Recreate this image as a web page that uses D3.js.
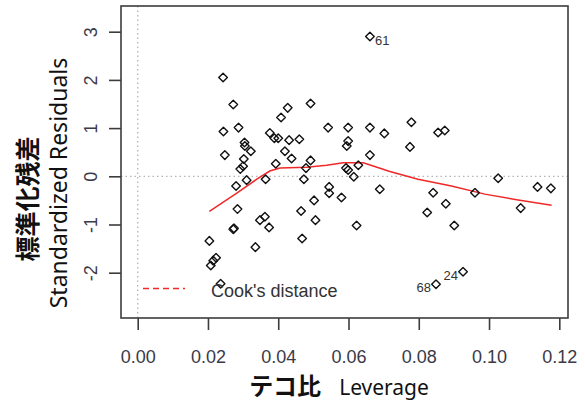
<!DOCTYPE html>
<html>
<head>
<meta charset="utf-8">
<script src="https://cdn.jsdelivr.net/npm/d3@7"></script>
<style>
  html, body { margin: 0; padding: 0; background: #ffffff; }
  svg { display: block; }
</style>
</head>
<body>
<div id="svgOutput"></div>
<script>
// observations: leverage and standardized residuals (last three are flagged)
const leverage = [
  0.0243, 0.0272, 0.0244, 0.0287, 0.0248, 0.0304, 0.0305, 0.0322, 0.0302, 0.0300,
  0.0292, 0.0310, 0.0280, 0.0364, 0.0376, 0.0389, 0.0400, 0.0408, 0.0427, 0.0431,
  0.0419, 0.0438, 0.0393, 0.0492, 0.0460, 0.0492, 0.0479, 0.0473, 0.0542, 0.0599,
  0.0661, 0.0702, 0.0599, 0.0595, 0.0661, 0.0593, 0.0599, 0.0628, 0.0615, 0.0689,
  0.0545, 0.0545, 0.0580, 0.0502, 0.0284, 0.0272, 0.0274, 0.0204, 0.0223, 0.0215,
  0.0208, 0.0236, 0.0335, 0.0348, 0.0362, 0.0374, 0.0465, 0.0506, 0.0468, 0.0623,
  0.0779, 0.0775, 0.0855, 0.0874, 0.1026, 0.1138, 0.1176, 0.0841, 0.0877, 0.0824,
  0.0901, 0.0960, 0.1090, 0.0926, 0.0849, 0.0661
];
const stdResid = [
  2.05, 1.49, 0.93, 1.01, 0.44, 0.70, 0.63, 0.52, 0.36, 0.21,
  0.15, -0.08, -0.20, -0.06, 0.90, 0.79, 0.79, 1.22, 1.42, 0.75,
  0.52, 0.37, 0.26, 1.51, 0.77, 0.33, 0.17, -0.06, 1.01, 1.01,
  1.01, 0.89, 0.73, 0.63, 0.44, 0.17, 0.13, 0.23, -0.01, -0.27,
  -0.22, -0.35, -0.44, -0.50, -0.68, -1.10, -1.08, -1.34, -1.69, -1.75,
  -1.85, -2.23, -1.47, -0.91, -0.84, -1.06, -0.72, -0.91, -1.29, -1.02,
  1.12, 0.61, 0.91, 0.95, -0.04, -0.22, -0.25, -0.34, -0.57, -0.75,
  -1.02, -0.34, -0.66, -1.98, -2.24, 2.90
];
const flaggedIndex = [73, 74, 75];
const flaggedLabel = ["24", "68", "61"];

// loess smoother
const smoothLev = [0.0204, 0.0282, 0.0339, 0.0376, 0.0405, 0.0481, 0.0538, 0.0585,
  0.0642, 0.0718, 0.0798, 0.0893, 0.0988, 0.1083, 0.1178];
const smoothRes = [-0.73, -0.35, -0.06, 0.11, 0.17, 0.19, 0.23, 0.28,
  0.28, 0.10, -0.06, -0.20, -0.37, -0.49, -0.60];

const xTicks = [0, 0.02, 0.04, 0.06, 0.08, 0.10, 0.12];
const yTicks = [-2, -1, 0, 1, 2, 3];

(function () {
  document.addEventListener('DOMContentLoaded', function () {

    const width = 585;
    const height = 410;
    const box = { left: 121, right: 568, top: 6, bottom: 318 };
    const axisColor = '#3c3c3c';
    const textColor = '#3a3a48';

    const svg = d3.select('#svgOutput')
      .append('svg')
      .attr('width', width)
      .attr('height', height)
      .attr('viewBox', [0, 0, width, height]);

    svg.append('rect')
      .attr('width', width)
      .attr('height', height)
      .attr('fill', '#ffffff');

    // scales

    const x = d3.scaleLinear()
      .domain([0, 0.12])
      .range([137.7, 559.3]);

    const y = d3.scaleLinear()
      .domain([-2, 3])
      .range([272.7, 31.7]);

    // dotted reference lines at zero

    svg.append('line')
      .attr('x1', x(0)).attr('x2', x(0))
      .attr('y1', box.top).attr('y2', box.bottom)
      .attr('stroke', '#b4b4b4')
      .attr('stroke-width', 1.3)
      .attr('stroke-dasharray', '1.5,3');

    svg.append('line')
      .attr('x1', box.left).attr('x2', box.right)
      .attr('y1', y(0)).attr('y2', y(0))
      .attr('stroke', '#b4b4b4')
      .attr('stroke-width', 1.3)
      .attr('stroke-dasharray', '1.5,3');

    // axes

    const xAxis = svg.append('g')
      .attr('transform', `translate(0,${box.bottom})`)
      .call(d3.axisBottom(x).tickValues(xTicks).tickSize(12).tickSizeOuter(0).tickPadding(16).tickFormat(d3.format('.2f')));

    const yAxis = svg.append('g')
      .attr('transform', `translate(${box.left},0)`)
      .call(d3.axisLeft(y).tickValues(yTicks).tickSize(12).tickSizeOuter(0).tickFormat(d => d < 0 ? '-' + Math.abs(d) : String(d)));

    [xAxis, yAxis].forEach(function (g) {
      g.select('.domain').remove();
      g.selectAll('.tick line')
        .attr('stroke', axisColor)
        .attr('stroke-width', 1.6);
      g.selectAll('.tick text')
        .attr('fill', textColor)
        .style('font-family', '"Liberation Sans", Arial, sans-serif')
        .style('font-size', '18px');
    });

    xAxis.selectAll('.tick text')
      .attr('y', 0)
      .attr('dy', 0)
      .attr('transform', 'translate(0,45)');

    yAxis.selectAll('.tick text')
      .attr('x', 0)
      .attr('dy', 0)
      .attr('text-anchor', 'middle')
      .attr('transform', 'translate(-24,0) rotate(-90)');

    // plot frame

    svg.append('rect')
      .attr('x', box.left)
      .attr('y', box.top)
      .attr('width', box.right - box.left)
      .attr('height', box.bottom - box.top)
      .attr('fill', 'none')
      .attr('stroke', axisColor)
      .attr('stroke-width', 1.6);

    // smoother

    const line = d3.line()
      .x((d, i) => x(smoothLev[i]))
      .y((d, i) => y(smoothRes[i]));

    svg.append('path')
      .datum(smoothLev)
      .attr('d', line)
      .attr('fill', 'none')
      .attr('stroke', '#f02828')
      .attr('stroke-width', 1.5);

    // points (open diamonds)

    const diamond = 'M0,-4.3L4.3,0L0,4.3L-4.3,0Z';

    svg.selectAll('path.pt')
      .data(leverage)
      .enter()
      .append('path')
      .attr('class', 'pt')
      .attr('d', diamond)
      .attr('transform', (d, i) => `translate(${x(d)},${y(stdResid[i])})`)
      .attr('fill', 'none')
      .attr('stroke', '#111111')
      .attr('stroke-width', 1.4)
      .attr('stroke-linejoin', 'round');

    // flagged labels, left of the point when past the middle of the range

    const midLev = (d3.min(leverage) + d3.max(leverage)) / 2;

    svg.selectAll('text.flag')
      .data(flaggedIndex)
      .enter()
      .append('text')
      .attr('class', 'flag')
      .attr('x', i => leverage[i] > midLev ? x(leverage[i]) - 5 : x(leverage[i]) + 5)
      .attr('y', i => y(stdResid[i]) + 8)
      .attr('text-anchor', i => leverage[i] > midLev ? 'end' : 'start')
      .attr('fill', '#333333')
      .style('font-family', '"Liberation Sans", Arial, sans-serif')
      .style('font-size', '13px')
      .text((i, k) => flaggedLabel[k]);

    // legend

    svg.append('line')
      .attr('x1', 143).attr('x2', 185)
      .attr('y1', 288.5).attr('y2', 288.5)
      .attr('stroke', '#f02828')
      .attr('stroke-width', 1.5)
      .attr('stroke-dasharray', '6,4');

    svg.append('text')
      .attr('x', 211)
      .attr('y', 297)
      .attr('fill', '#333333')
      .style('font-family', '"Liberation Sans", Arial, sans-serif')
      .style('font-size', '18px')
      .text("Cook's distance");

    // axis titles

    const xTitle = svg.append('text')
      .attr('x', 339)
      .attr('y', 395)
      .attr('text-anchor', 'middle')
      .attr('fill', '#111111');

    xTitle.append('tspan')
      .style('font-family', '"Noto Sans CJK JP", sans-serif')
      .style('font-weight', 'bold')
      .style('font-size', '24px')
      .text('テコ比');

    xTitle.append('tspan')
      .attr('dx', 18)
      .style('font-family', '"Noto Sans", sans-serif')
      .style('font-size', '21px')
      .text('Leverage');

    svg.append('text')
      .attr('transform', 'translate(37,199) rotate(-90)')
      .attr('text-anchor', 'middle')
      .attr('fill', '#111111')
      .style('font-family', '"Noto Sans CJK JP", sans-serif')
      .style('font-weight', 'bold')
      .style('font-size', '25px')
      .text('標準化残差');

    svg.append('text')
      .attr('transform', 'translate(67,183) rotate(-90)')
      .attr('text-anchor', 'middle')
      .attr('fill', '#111111')
      .style('font-family', '"Noto Sans", sans-serif')
      .style('font-size', '23px')
      .text('Standardized Residuals');
  });
})();
</script>
</body>
</html>
